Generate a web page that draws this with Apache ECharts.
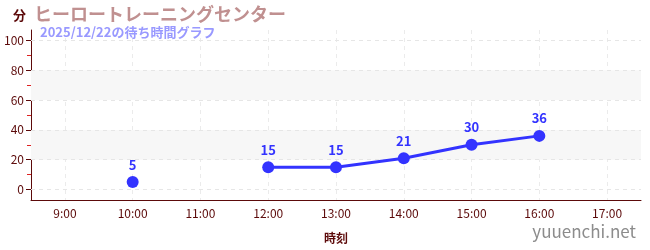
<!DOCTYPE html>
<html><head><meta charset="utf-8">
<script src="https://cdn.jsdelivr.net/npm/echarts@6/dist/echarts.min.js"></script>
<style>html,body{margin:0;padding:0;background:#fff}#c{width:650px;height:250px}</style>
</head><body><div id="c"></div>
<script>
const categories = ['9:00','10:00','11:00','12:00','13:00','14:00','15:00','16:00','17:00'];
const waitValues = [null, 5, null, 15, 15, 21, 30, 36, null];
const yTickLabels = [0, 20, 40, 60, 80, 100];
const yMinorTicks = [10, 30, 50, 70, 90];
const titleText = 'ヒーロートレーニングセンター';
const subText = '2025/12/22の待ち時間グラフ';

const FONT = '"Noto Sans CJK JP", "Noto Sans", sans-serif';
const AX = '#5c0a0a';
const chart = echarts.init(document.getElementById('c'));
const yBase = {min: -7, max: 107, type: 'value', position: 'left', offset: 0};
chart.setOption({
  animation: false,
  textStyle: {fontFamily: FONT},
  grid: {left: 31, right: 9, top: 30, bottom: 50},
  title: [
    {text: titleText, left: 29, top: 0, textStyle: {fontFamily: FONT, fontSize: 18, fontWeight: 'bold', color: '#c09090'}},
    {text: subText, left: 35, top: 21, textStyle: {fontFamily: FONT, fontSize: 13, fontWeight: 'bold', color: '#9999ff'}}
  ],
  graphic: [
    {type: 'text', left: 13, top: 9, style: {text: '分', font: 'bold 13px ' + FONT, fill: AX}},
    {type: 'text', right: 14, top: 223, style: {text: 'yuuenchi.net', font: '17px ' + FONT, fill: '#8c8c8c'}}
  ],
  xAxis: [
    {type: 'category', data: categories, boundaryGap: true, position: 'bottom',
     name: '時刻', nameLocation: 'middle', nameGap: 32,
     nameTextStyle: {fontFamily: FONT, fontSize: 12, fontWeight: 'bold', color: AX},
     axisLine: {onZero: false, lineStyle: {color: AX, width: 1}},
     axisTick: {alignWithLabel: true, length: 4, lineStyle: {color: AX}},
     axisLabel: {color: AX, fontSize: 12, margin: 7, fontFamily: FONT},
     splitLine: {show: true, alignWithLabel: true, lineStyle: {color: '#ebebeb', type: [4, 4]}}},
    {type: 'category', data: categories, boundaryGap: true, position: 'bottom', offset: 0,
     axisLine: {show: false, onZero: false},
     axisTick: {alignWithLabel: true, inside: true, length: 4, lineStyle: {color: AX}},
     axisLabel: {show: false}, splitLine: {show: false}}
  ],
  yAxis: [
    Object.assign({}, yBase, {
     axisLine: {show: true, onZero: false, lineStyle: {color: AX}},
     axisTick: {show: true, length: 5, customValues: yTickLabels, lineStyle: {color: AX}},
     axisLabel: {color: AX, fontSize: 12, margin: 7, customValues: yTickLabels, fontFamily: FONT},
     splitLine: {show: false}}),
    Object.assign({}, yBase, {
     axisLine: {show: false, onZero: false},
     axisTick: {show: true, inside: true, length: 4, customValues: yTickLabels, lineStyle: {color: AX}},
     axisLabel: {show: false}, splitLine: {show: false}}),
    Object.assign({}, yBase, {
     axisLine: {show: false, onZero: false},
     axisTick: {show: true, length: 4, customValues: yMinorTicks, lineStyle: {color: '#dd2222'}},
     axisLabel: {show: false}, splitLine: {show: false}})
  ],
  series: [{
    type: 'line', data: waitValues, connectNulls: false,
    symbol: 'circle', symbolSize: 12, showSymbol: true,
    lineStyle: {color: '#3333ff', width: 3},
    itemStyle: {color: '#3333ff'},
    label: {show: true, position: 'top', distance: 5, color: '#3333ff', fontSize: 13, fontWeight: 'bold', fontFamily: FONT},
    markArea: {silent: true, itemStyle: {color: '#f7f7f7'},
      data: [[{yAxis: 20}, {yAxis: 40}], [{yAxis: 60}, {yAxis: 80}]]},
    markLine: {silent: true, symbol: 'none', label: {show: false},
      lineStyle: {color: '#e6e6e6', type: [4, 4], width: 1},
      data: yTickLabels.map(v => ({yAxis: v}))},
    z: 5
  }]
});
</script></body></html>
